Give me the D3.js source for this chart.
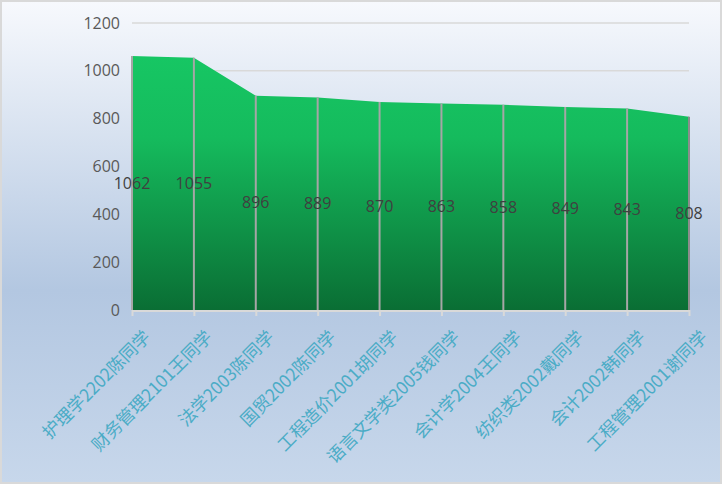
<!DOCTYPE html>
<html>
<head>
<meta charset="utf-8">
<script src="https://cdn.jsdelivr.net/npm/d3@7"></script>
<style>
  body { margin: 0; }
  svg { display: block; }
</style>
</head>
<body>
<script>
// chart data
const names = ["护理学2202陈同学", "财务管理2101王同学", "法学2003陈同学", "国贸2002陈同学", "工程造价2001胡同学",
  "语言文学类2005钱同学", "会计学2004王同学", "纺织类2002戴同学", "会计2002韩同学", "工程管理2001谢同学"];
const scores = [1062, 1055, 896, 889, 870, 863, 858, 849, 843, 808];
const yTicks = [0, 200, 400, 600, 800, 1000, 1200];

const width = 722, height = 484;
const margin = {top: 23, right: 33, bottom: 174, left: 132};
const innerWidth = width - margin.left - margin.right;
const innerHeight = height - margin.top - margin.bottom;

const data = names.map((n, i) => ({name: n, value: scores[i]}));

const svg = d3.select("body").append("svg")
    .attr("width", width)
    .attr("height", height);

const defs = svg.append("defs");
// background gradient
const bg = defs.append("linearGradient").attr("id", "bg")
    .attr("x1", 0).attr("y1", 0).attr("x2", 0).attr("y2", 1);
bg.append("stop").attr("offset", "0%").attr("stop-color", "#f7f9fd");
bg.append("stop").attr("offset", "60%").attr("stop-color", "#b3c7e1");
bg.append("stop").attr("offset", "100%").attr("stop-color", "#c7d7eb");

// area gradient
const ag = defs.append("linearGradient").attr("id", "areaFill")
    .attr("gradientUnits", "userSpaceOnUse")
    .attr("x1", 0).attr("y1", 0).attr("x2", 0).attr("y2", innerHeight);
ag.append("stop").attr("offset", "0%").attr("stop-color", "#17cb66");
ag.append("stop").attr("offset", "40%").attr("stop-color", "#15bb5d");
ag.append("stop").attr("offset", "100%").attr("stop-color", "#0a6e34");

svg.append("rect")
    .attr("x", 1).attr("y", 1)
    .attr("width", width - 2).attr("height", height - 2)
    .attr("fill", "url(#bg)")
    .attr("stroke", "#d9d9d9")
    .attr("stroke-width", 2);

const g = svg.append("g")
    .attr("transform", "translate(" + margin.left + "," + margin.top + ")");

const x = d3.scalePoint()
    .domain(names)
    .range([0, innerWidth]);

const y = d3.scaleLinear()
    .domain([0, 1200])
    .range([innerHeight, 0]);

// gridlines
g.append("g")
    .selectAll("line")
    .data(yTicks.filter(t => t > 0))
    .enter().append("line")
    .attr("x1", 0).attr("x2", innerWidth)
    .attr("y1", d => y(d)).attr("y2", d => y(d))
    .attr("stroke", "#d9d9d9")
    .attr("stroke-width", 1.5);

// y axis labels
const yAxis = g.append("g")
    .call(d3.axisLeft(y).tickValues(yTicks).tickFormat(d3.format("d")).tickSize(0).tickPadding(12));
yAxis.select(".domain").remove();
yAxis.selectAll("text")
    .attr("font-family", "'Open Sans', 'Liberation Sans', sans-serif")
    .attr("font-size", "16px")
    .attr("fill", "#595959");

// area
const area = d3.area()
    .x(d => x(d.name))
    .y0(innerHeight)
    .y1(d => y(d.value));

g.append("path")
    .datum(data)
    .attr("d", area)
    .attr("fill", "url(#areaFill)");

// drop lines
g.append("g")
    .selectAll("line")
    .data(data)
    .enter().append("line")
    .attr("x1", d => x(d.name)).attr("x2", d => x(d.name))
    .attr("y1", d => y(d.value)).attr("y2", innerHeight)
    .attr("stroke", (d, i) => i === data.length - 1 ? "#8c8c8c" : "#a6a6a6")
    .attr("stroke-width", 2);

// x axis
const xAxis = g.append("g")
    .attr("transform", "translate(0," + innerHeight + ")")
    .call(d3.axisBottom(x).tickSize(6).tickPadding(4));
xAxis.select(".domain")
    .attr("stroke", "#d9d9d9")
    .attr("stroke-width", 2)
    .attr("d", "M0,1H" + innerWidth);
xAxis.selectAll(".tick line")
    .attr("stroke", "#d9d9d9")
    .attr("stroke-width", 2);
xAxis.selectAll("text")
    .attr("font-family", "'Noto Sans CJK SC', sans-serif")
    .attr("font-size", "17.5px")
    .attr("fill", "#4bacc6")
    .attr("text-anchor", "end")
    .attr("dy", "0")
    .attr("transform", "translate(12,21) rotate(-45)");

// data labels
g.append("g")
    .selectAll("text")
    .data(data)
    .enter().append("text")
    .attr("x", d => x(d.name))
    .attr("y", d => y(d.value / 2))
    .attr("dy", "0.35em")
    .attr("text-anchor", "middle")
    .attr("font-family", "'Open Sans', 'Liberation Sans', sans-serif")
    .attr("font-size", "16px")
    .attr("fill", "#404040")
    .text(d => d.value);
</script>
</body>
</html>
